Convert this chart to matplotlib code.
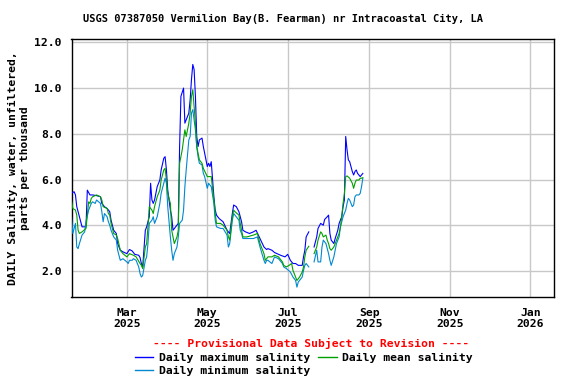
import numpy as np
import matplotlib
matplotlib.use("Agg")
import matplotlib.pyplot as plt
from matplotlib.lines import Line2D

# ---------------- data (days since 2025-01-18, salinity ppt) ----------------
start_date = np.datetime64("2025-01-18")
missing_after_day = 180   # no record between day 180 and day 184

max_days = [0, 2, 3, 4, 6, 8, 11, 12, 14, 16, 19, 22, 23, 25, 27, 29, 30, 32, 34, 35,
            37, 39, 42, 44, 46, 48, 51, 52, 53, 54, 56, 57, 59, 60, 61, 62, 63, 65, 66, 67,
            68, 70, 71, 72, 73, 74, 75, 76, 77, 79, 81, 82, 83, 85, 86, 87, 89, 90, 91, 92,
            93, 94, 95, 96, 97, 99, 100, 101, 103, 104, 105, 106, 108, 109, 110, 112, 115, 118, 120, 122,
            123, 125, 127, 128, 129, 130, 132, 135, 138, 140, 143, 146, 148, 149, 152, 154, 157, 159, 162, 164,
            166, 168, 170, 172, 175, 176, 177, 178, 180,
            184, 186, 187, 189, 191, 192, 194, 195, 196, 197, 199, 200, 202, 203, 205, 206, 207, 208, 209, 210,
            211, 212, 213, 214, 215, 216, 217, 218, 219, 220, 221]
max_vals = [5.40, 5.47, 5.33, 4.82, 4.38, 3.94, 3.94, 5.54, 5.33, 5.33, 5.30, 5.25, 4.96, 4.82, 4.74, 4.60, 4.23, 3.79, 3.65, 3.21,
            2.92, 2.85, 2.77, 2.95, 2.89, 2.74, 2.70, 2.60, 2.34, 2.19, 3.79, 3.94, 4.38, 5.84, 5.11, 4.96, 5.11, 5.69, 5.84, 5.98,
            6.42, 6.93, 7.00, 6.42, 5.54, 5.11, 4.67, 4.38, 3.79, 3.94, 4.09, 7.44, 9.63, 9.99, 8.46, 8.61, 8.90, 9.48, 10.36, 11.02,
            10.80, 9.63, 7.88, 7.44, 7.73, 7.81, 7.44, 7.15, 6.57, 6.71, 6.57, 6.78, 5.25, 4.67, 4.45, 4.30, 4.16, 3.79, 3.65, 4.52,
            4.89, 4.82, 4.60, 4.38, 4.16, 3.79, 3.72, 3.65, 3.72, 3.79, 3.43, 3.06, 2.95, 2.99, 2.92, 2.82, 2.74, 2.69, 2.63, 2.74,
            2.48, 2.34, 2.34, 2.26, 2.26, 2.63, 2.92, 3.50, 3.72,
            3.06, 3.50, 3.87, 4.09, 4.01, 4.26, 4.38, 4.45, 3.65, 3.36, 3.21, 3.43, 3.79, 4.09, 4.38, 4.82, 5.11, 7.88, 7.30, 6.86,
            6.78, 6.57, 6.35, 6.20, 6.35, 6.42, 6.27, 6.20, 6.13, 6.20, 6.27]

mean_days = [0, 1, 3, 4, 5, 6, 8, 10, 11, 13, 14, 15, 16, 19, 22, 23, 24, 27, 28, 29,
             30, 32, 34, 35, 37, 39, 42, 44, 47, 49, 52, 53, 54, 56, 57, 58, 59, 61, 62, 63,
             65, 66, 67, 68, 70, 71, 72, 73, 75, 76, 77, 78, 80, 81, 82, 84, 85, 86, 87, 89,
             90, 91, 92, 94, 95, 96, 97, 99, 100, 103, 105, 106, 108, 109, 110, 113, 115, 118, 119, 120,
             122, 123, 124, 127, 128, 129, 130, 133, 138, 141, 143, 146, 147, 148, 149, 152, 154, 157, 160, 161,
             163, 165, 167, 168, 170, 171, 173, 175, 176, 177, 178, 180,
             184, 186, 187, 189, 190, 191, 193, 194, 195, 196, 197, 199, 200, 201, 203, 204, 205, 206, 207, 208,
             209, 211, 213, 214, 215, 216, 218, 219, 220, 221]
mean_vals = [5.11, 4.74, 4.67, 4.45, 3.79, 3.65, 3.72, 3.82, 3.87, 5.03, 4.96, 5.18, 5.25, 5.33, 5.25, 5.11, 4.82, 4.74, 4.52, 4.45,
             4.09, 3.65, 3.58, 3.43, 2.92, 2.77, 2.63, 2.77, 2.70, 2.63, 2.34, 2.26, 2.12, 3.06, 3.21, 3.94, 4.82, 4.67, 4.52, 4.82,
             5.25, 5.40, 5.54, 5.98, 6.42, 6.49, 5.98, 5.40, 4.96, 3.79, 3.50, 3.21, 3.50, 3.79, 6.71, 7.30, 7.73, 8.17, 7.88, 8.46,
             8.90, 9.63, 9.92, 8.46, 7.44, 7.15, 6.86, 6.71, 6.49, 6.13, 6.13, 6.13, 5.11, 4.52, 4.09, 4.09, 4.01, 3.79, 3.50, 3.36,
             4.38, 4.67, 4.60, 4.45, 4.09, 3.79, 3.50, 3.50, 3.58, 3.65, 3.21, 2.77, 2.48, 2.55, 2.63, 2.63, 2.70, 2.63, 2.41, 2.26,
             2.19, 2.26, 2.34, 2.04, 1.75, 1.60, 1.75, 1.97, 2.19, 2.63, 2.92, 3.09,
             2.77, 3.06, 3.36, 3.72, 3.65, 3.50, 3.58, 3.36, 3.21, 2.99, 2.92, 3.06, 3.21, 3.36, 3.65, 3.94, 4.38, 4.96, 5.40, 6.13,
             6.16, 6.06, 5.84, 5.62, 5.84, 5.98, 5.98, 6.06, 6.06, 6.08]

min_days = [0, 1, 3, 4, 5, 6, 8, 9, 10, 11, 13, 14, 15, 16, 18, 19, 22, 23, 24, 25,
            27, 28, 29, 30, 32, 33, 34, 35, 37, 39, 42, 43, 44, 46, 47, 49, 51, 52, 53, 54,
            56, 57, 58, 59, 61, 62, 63, 65, 66, 67, 68, 70, 71, 72, 73, 75, 76, 77, 78, 80,
            81, 82, 84, 85, 86, 87, 89, 90, 91, 92, 94, 95, 96, 97, 99, 100, 101, 103, 104, 105,
            106, 108, 109, 110, 113, 115, 118, 119, 120, 122, 123, 124, 127, 128, 129, 130, 133, 138, 141, 143,
            146, 147, 148, 149, 152, 154, 157, 160, 161, 163, 166, 168, 170, 171, 172, 175, 176, 177, 178, 180,
            184, 186, 187, 189, 190, 191, 193, 194, 195, 196, 197, 199, 200, 201, 203, 204, 205, 206, 208, 209,
            210, 211, 213, 214, 215, 216, 218, 219, 220, 221]
min_vals = [4.38, 3.65, 4.09, 3.06, 2.99, 3.21, 3.58, 3.65, 3.72, 4.16, 4.67, 4.82, 4.96, 5.03, 4.96, 5.11, 4.96, 4.60, 4.16, 4.52,
            4.38, 4.16, 4.01, 3.79, 3.50, 3.43, 3.36, 2.92, 2.48, 2.55, 2.41, 2.34, 2.48, 2.48, 2.55, 2.48, 2.19, 1.90, 1.75, 1.82,
            2.48, 2.63, 3.21, 4.09, 4.23, 4.38, 4.09, 4.38, 4.67, 4.96, 5.40, 5.84, 6.06, 5.84, 4.82, 3.50, 2.92, 2.48, 2.77, 3.06,
            3.50, 4.09, 4.23, 4.67, 5.69, 6.42, 7.73, 7.88, 8.90, 9.05, 8.17, 7.44, 7.00, 6.71, 6.64, 6.27, 6.13, 5.62, 5.84, 5.76,
            5.69, 4.96, 4.23, 3.94, 3.87, 3.87, 3.58, 3.06, 3.21, 4.23, 4.52, 4.45, 4.23, 3.79, 3.65, 3.43, 3.43, 3.43, 3.50, 3.06,
            2.48, 2.34, 2.48, 2.48, 2.34, 2.63, 2.55, 2.34, 2.19, 2.12, 1.97, 1.75, 1.60, 1.31, 1.53, 1.75, 2.04, 2.26, 2.34, 2.19,
            2.41, 2.92, 2.41, 2.41, 3.06, 3.36, 3.21, 2.99, 2.77, 2.48, 2.26, 2.63, 2.92, 3.21, 3.50, 3.94, 4.16, 4.38, 4.67, 4.96,
            5.18, 5.11, 4.82, 4.89, 5.25, 5.33, 5.33, 5.40, 5.69, 6.06]

series_labels = ["Daily maximum salinity", "Daily mean salinity", "Daily minimum salinity"]
series_colors = ["#0000ff", "#00a000", "#0088d0"]

title = "USGS 07387050 Vermilion Bay(B. Fearman) nr Intracoastal City, LA"
ylabel = "DAILY Salinity, water, unfiltered,\nparts per thousand"
provisional = "---- Provisional Data Subject to Revision ----"
yticks = [2.0, 4.0, 6.0, 8.0, 10.0, 12.0]
xtick_dates = ["2025-03-01", "2025-05-01", "2025-07-01", "2025-09-01", "2025-11-01", "2026-01-01"]
xtick_labels = ["Mar\n2025", "May\n2025", "Jul\n2025", "Sep\n2025", "Nov\n2025", "Jan\n2026"]


def to_series(days, vals):
    d = np.asarray(days, dtype=float)
    v = np.asarray(vals, dtype=float)
    # break the line over the missing-record period
    idx = np.searchsorted(d, missing_after_day, side="right")
    d = np.insert(d, idx, missing_after_day + 1)
    v = np.insert(v, idx, np.nan)
    dates = start_date + (d * 24 * 3600).astype("timedelta64[s]")
    return dates.astype("datetime64[s]").astype(object), v


font = "DejaVu Sans Mono"
fs = 8.2

fig = plt.figure(figsize=(5.76, 3.84), dpi=100)
ax = fig.add_axes([71.5 / 576, 1 - 297 / 384, (554 - 71.5) / 576, (297 - 39) / 384])

order = [(max_days, max_vals, 0), (min_days, min_vals, 2), (mean_days, mean_vals, 1)]
for days, vals, i in order:
    x, y = to_series(days, vals)
    ax.plot(x, y, color=series_colors[i], lw=0.8, zorder=3)

ax.set_xlim(np.datetime64("2025-01-18"), np.datetime64("2026-01-19"))
ax.set_ylim(0.88, 12.13)
ax.set_yticks(yticks)
ax.set_yticklabels([f"{t:.1f}" for t in yticks], fontfamily=font, fontweight="bold", fontsize=fs)
ax.set_xticks([np.datetime64(d) for d in xtick_dates])
ax.set_xticklabels(xtick_labels, fontfamily=font, fontweight="bold", fontsize=fs, linespacing=1.05)
ax.tick_params(axis="both", length=0, pad=7)
ax.tick_params(axis="x", pad=8)
ax.grid(True, color="#c8c8c8", lw=1.0, zorder=0)
ax.set_axisbelow(True)
for s in ax.spines.values():
    s.set_linewidth(1.0)
    s.set_color("black")

fig.text(283 / 576, 1 - 19 / 384, title, ha="center", va="center",
         fontfamily=font, fontweight="bold", fontsize=7.5)
fig.text(19 / 576, 1 - 168 / 384, ylabel, ha="center", va="center", rotation=90,
         fontfamily=font, fontweight="bold", fontsize=fs, linespacing=1.3, multialignment="center")
fig.text(311 / 576, 1 - 343 / 384, provisional, ha="center", va="center", color="red",
         fontfamily=font, fontweight="bold", fontsize=fs)

leg_handles = [Line2D([], [], color=series_colors[0], lw=1),
               Line2D([], [], color=series_colors[2], lw=1),
               Line2D([], [], color=series_colors[1], lw=1)]
leg_labels = [series_labels[0], series_labels[2], series_labels[1]]
fig.legend(leg_handles, leg_labels, loc="center", bbox_to_anchor=(304 / 576, 1 - 364.5 / 384),
           ncol=2, frameon=False, handlelength=1.6, handletextpad=0.5, columnspacing=0.7,
           labelspacing=0.3, borderpad=0,
           prop={"family": font, "weight": "bold", "size": fs})

fig.savefig("out.png", dpi=100)
